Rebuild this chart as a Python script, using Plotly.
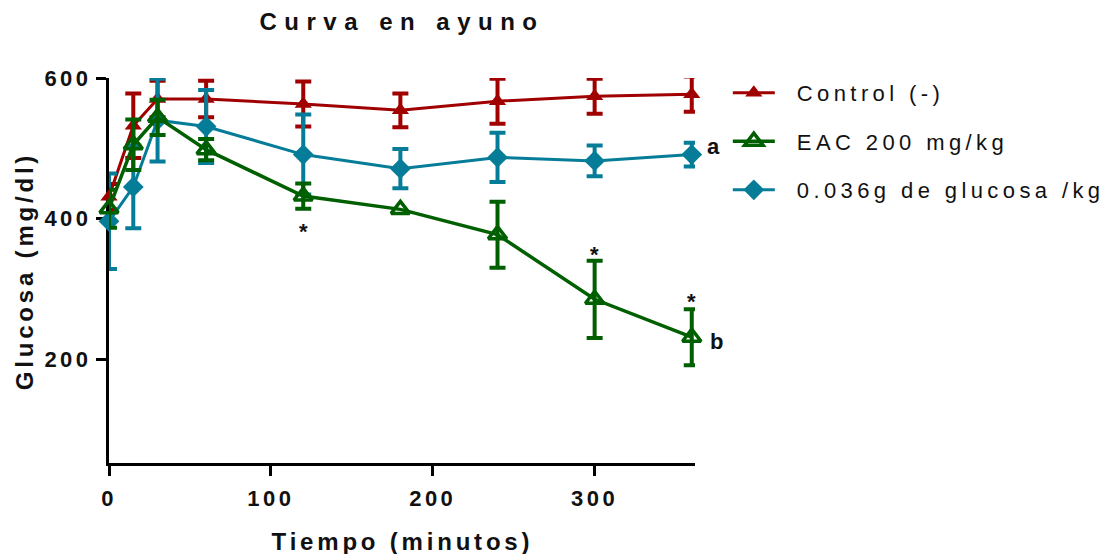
import numpy as np
import plotly.graph_objects as go

# Tiempo de muestreo (min)
tiempo = [0, 15, 30, 60, 120, 180, 240, 300, 360]

# Glucosa media (mg/dl) y error por grupo
control = [431, 532, 570, 570, 563, 554, 567, 574, 577]
control_err = [18, 46, 26, 26, 32, 24, 32, 25, 25]

eac = [414, 505, 544, 498, 432, 413, 377, 285, 231]
eac_err = [27, 36, 25, 15, 18, 5, 47, 55, 40]

glucosa = [396, 445, 540, 531, 491, 471, 487, 482, 491]
glucosa_err = [68, 59, 59, 52, 57, 28, 35, 22, 17]

nombres = ["Control (-)", "EAC 200 mg/kg", "0.036g de glucosa /kg"]

# Marcas de significancia
ast_x = [120, 300, 360]
ast_y = [384, 351, 285]
letras = ["a", "b"]
letras_y = [glucosa[-1], eac[-1]]

ROJO = "#a00000"
VERDE = "#005f00"
AZUL = "#067d98"
FONT = "Liberation Sans, Arial, sans-serif"


def barras(err, minimo=8):
    # Las barras más cortas que el símbolo no se dibujan
    e = np.array(err, dtype=float)
    e[e < minimo] = np.nan
    return e


def serie(y, err, nombre, color, simbolo, size, rank, lw=3):
    abierto = "open" in simbolo
    return go.Scatter(
        x=tiempo, y=y, name=nombre, mode="lines+markers",
        legendgroup=nombre, legendrank=rank, cliponaxis=False,
        line=dict(color=color, width=lw),
        marker=dict(symbol=simbolo, size=size, color=color,
                    line=dict(color=color, width=3.5 if abierto else 0)),
        error_y=dict(type="data", array=barras(err), visible=True, color=color,
                     thickness=4, width=8),
    )


fig = go.Figure()
fig.add_trace(serie(control, control_err, nombres[0], ROJO, "triangle-up", 15, 1))
fig.add_trace(serie(glucosa, glucosa_err, nombres[2], AZUL, "diamond", 16, 3))
fig.add_trace(serie(eac, eac_err, nombres[1], VERDE, "triangle-up-open", 16, 2, lw=3.5))

for xa, ya in zip(ast_x, ast_y):
    fig.add_annotation(x=xa, y=ya, text="<b>*</b>", showarrow=False,
                       font=dict(family=FONT, size=22, color="#111"),
                       xanchor="center", yanchor="middle", yshift=-2)

for letra, ly, xs, ys in zip(letras, letras_y, [13, 16], [8, -4]):
    fig.add_annotation(x=360, y=ly, text="<b>%s</b>" % letra, showarrow=False,
                       font=dict(family=FONT, size=22, color="#111"),
                       xanchor="left", yanchor="middle", xshift=xs, yshift=ys)

# Títulos de ejes
fig.add_annotation(xref="paper", yref="paper", x=0.5, y=-0.2026,
                   text="<b>Tiempo (minutos)</b>", showarrow=False,
                   font=dict(family=FONT, size=24, color="#111"),
                   xanchor="center", yanchor="middle")
fig.add_annotation(xref="paper", yref="paper", x=-0.1433, y=0.497,
                   text="<b>Glucosa (mg/dl)</b>", showarrow=False, textangle=-90,
                   font=dict(family=FONT, size=24, color="#111"),
                   xanchor="center", yanchor="middle")

eje = dict(showline=True, linewidth=3, linecolor="black", ticks="outside",
           ticklen=10, tickwidth=3, tickcolor="black", showgrid=False,
           zeroline=False, layer="below traces",
           tickfont=dict(family=FONT, size=22, color="#111", weight="bold"))

fig.update_layout(
    width=1110, height=554,
    margin=dict(l=109, r=415, t=78, b=91),
    plot_bgcolor="white", paper_bgcolor="white",
    title=dict(text="<b>Curva en ayuno</b>", x=0.5, xref="paper",
               y=1 - 22 / 554, yref="container", yanchor="middle",
               xanchor="center",
               font=dict(family=FONT, size=24, color="#111")),
    xaxis=dict(eje, range=[0, 362], tick0=0, dtick=100, ticklabelstandoff=4),
    yaxis=dict(eje, range=[52, 600], tick0=0, dtick=200, ticklabelstandoff=0),
    showlegend=True,
    legend=dict(x=1.056, y=1.016, xanchor="left", yanchor="top",
                font=dict(family=FONT, size=22, color="#111"),
                itemwidth=42, tracegroupgap=17, bgcolor="rgba(0,0,0,0)"),
)

# Espaciado de letras amplio en los textos
js = """
var gd = document.getElementById('{plot_id}');
function espaciar(sel, px) {
  gd.querySelectorAll(sel).forEach(function(t){ t.style.letterSpacing = px + 'px'; });
}
espaciar('.gtitle', 7.5);
espaciar('.legendtext', 4.4);
espaciar('.xtick text', 3.5);
espaciar('.ytick text', 3.5);
gd.querySelectorAll('.annotation-text').forEach(function(t){
  if (t.textContent.length > 2) { t.style.letterSpacing = '3.8px'; }
});
gd.querySelectorAll('.legend .scrollbox, .legend').forEach(function(g){
  g.removeAttribute('clip-path');
});
gd.querySelectorAll('.legendtext').forEach(function(t){
  t.setAttribute('x', parseFloat(t.getAttribute('x') || 0) + 17);
});
"""

fig.write_html("out.html", post_script=js)
